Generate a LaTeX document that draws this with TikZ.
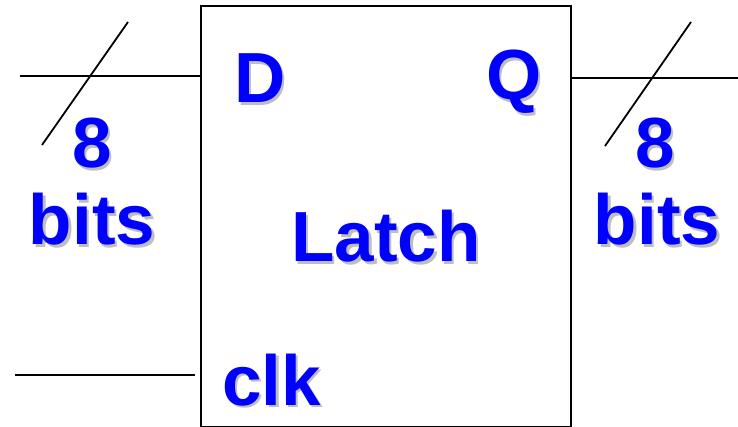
\documentclass[tikz,border=0pt]{standalone}
\usepackage{fontspec}
\setmainfont{Liberation Sans}
\usepackage{tikz}
\usetikzlibrary{positioning, calc}
\usepackage{xcolor}
\definecolor{labelblue}{RGB}{0,0,255}
\definecolor{shadowgray}{RGB}{190,190,190}
% blue text with a soft gray drop shadow
\newcommand{\shtext}[1]{\makebox[0pt][l]{\hspace{2.5pt}\raisebox{-2.5pt}{\color{shadowgray}#1}}#1}

\begin{document}
\begin{tikzpicture}[x=1pt, y=-1pt,
    wire/.style={line width=1.8pt},
    lbl/.style={inner sep=0pt, font=\fontsize{71}{71}\selectfont\bfseries, text=labelblue}]
  \useasboundingbox (0,0) rectangle (738,427);
  % latch body
  \node[draw, line width=1.8pt, minimum width=370pt, minimum height=421pt, inner sep=0pt, anchor=north west] (latch) at (200,5) {};
  % ports
  \coordinate (din) at (20,76);
  \coordinate (qout) at (738,78);
  \coordinate (clkin) at (15,375);
  \draw[wire] (din) -- (latch.west |- din);
  \draw[wire] (latch.east |- qout) -- (qout);
  \draw[wire] (clkin) -- ($(latch.west |- clkin)+(-5,0)$);
  % bus width slashes
  \coordinate (ds1) at (128,22);
  \coordinate (ds2) at (42,145);
  \coordinate (qs1) at (691,22);
  \coordinate (qs2) at (605,146);
  \draw[wire] (ds1) -- (ds2);
  \draw[wire] (qs1) -- (qs2);
  % labels
  \node[lbl, anchor=base west] (dlbl) at (234,103) {\shtext{D}};
  \node[lbl, anchor=base west] (qlbl) at (486,100) {\shtext{Q}};
  \node[lbl, anchor=base west] (clklbl) at (222,405) {\shtext{clk}};
  \node[lbl, anchor=base west] (name) at (291,262) {\shtext{Latch}};
  \node[lbl, anchor=base] (dwidth) at (92,168) {\shtext{8}};
  \node[lbl, anchor=base] (dbits) at (92,245) {\shtext{bits}};
  \node[lbl, anchor=base] (qwidth) at (655,168) {\shtext{8}};
  \node[lbl, anchor=base] (qbits) at (657,245) {\shtext{bits}};
\end{tikzpicture}
\end{document}
